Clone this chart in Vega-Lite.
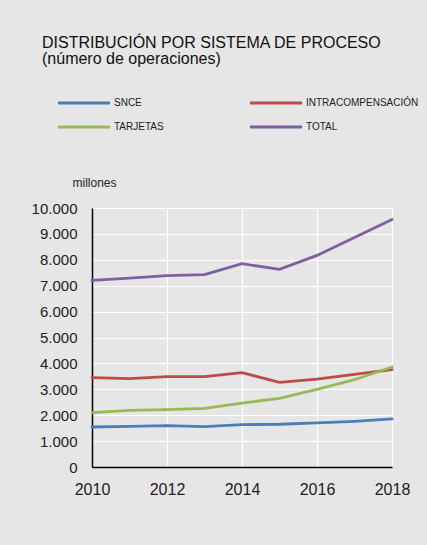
{
  "$schema": "https://vega.github.io/schema/vega-lite/v6.json",
  "width": 300,
  "height": 259,
  "autosize": "none",
  "padding": {"left": 92, "top": 208, "right": 35, "bottom": 78},
  "background": "#e6e6e6",
  "title": {
    "text": "DISTRIBUCIÓN POR SISTEMA DE PROCESO",
    "subtitle": "(número de operaciones)",
    "anchor": "start",
    "frame": "group",
    "dx": -50,
    "dy": -20,
    "font": "Liberation Sans",
    "fontSize": 16,
    "fontWeight": "normal",
    "color": "#111111",
    "subtitleFont": "Liberation Sans",
    "subtitleFontSize": 16,
    "subtitleColor": "#111111",
    "subtitlePadding": 0
  },
  "data": {
    "values": [
      {"year": 2010, "serie": "SNCE", "value": 1545},
      {"year": 2011, "serie": "SNCE", "value": 1570},
      {"year": 2012, "serie": "SNCE", "value": 1600},
      {"year": 2013, "serie": "SNCE", "value": 1560},
      {"year": 2014, "serie": "SNCE", "value": 1637},
      {"year": 2015, "serie": "SNCE", "value": 1650},
      {"year": 2016, "serie": "SNCE", "value": 1700},
      {"year": 2017, "serie": "SNCE", "value": 1765},
      {"year": 2018, "serie": "SNCE", "value": 1855},
      {"year": 2010, "serie": "INTRACOMPENSACIÓN", "value": 3450},
      {"year": 2011, "serie": "INTRACOMPENSACIÓN", "value": 3410},
      {"year": 2012, "serie": "INTRACOMPENSACIÓN", "value": 3490},
      {"year": 2013, "serie": "INTRACOMPENSACIÓN", "value": 3490},
      {"year": 2014, "serie": "INTRACOMPENSACIÓN", "value": 3640},
      {"year": 2015, "serie": "INTRACOMPENSACIÓN", "value": 3270},
      {"year": 2016, "serie": "INTRACOMPENSACIÓN", "value": 3390},
      {"year": 2017, "serie": "INTRACOMPENSACIÓN", "value": 3580},
      {"year": 2018, "serie": "INTRACOMPENSACIÓN", "value": 3760},
      {"year": 2010, "serie": "TARJETAS", "value": 2100},
      {"year": 2011, "serie": "TARJETAS", "value": 2190},
      {"year": 2012, "serie": "TARJETAS", "value": 2215},
      {"year": 2013, "serie": "TARJETAS", "value": 2265},
      {"year": 2014, "serie": "TARJETAS", "value": 2470},
      {"year": 2015, "serie": "TARJETAS", "value": 2650},
      {"year": 2016, "serie": "TARJETAS", "value": 3000},
      {"year": 2017, "serie": "TARJETAS", "value": 3370},
      {"year": 2018, "serie": "TARJETAS", "value": 3860},
      {"year": 2010, "serie": "TOTAL", "value": 7208},
      {"year": 2011, "serie": "TOTAL", "value": 7290},
      {"year": 2012, "serie": "TOTAL", "value": 7390},
      {"year": 2013, "serie": "TOTAL", "value": 7430},
      {"year": 2014, "serie": "TOTAL", "value": 7850},
      {"year": 2015, "serie": "TOTAL", "value": 7630},
      {"year": 2016, "serie": "TOTAL", "value": 8170},
      {"year": 2017, "serie": "TOTAL", "value": 8860},
      {"year": 2018, "serie": "TOTAL", "value": 9560}
    ]
  },
  "mark": {"type": "line", "strokeWidth": 2.8, "strokeCap": "round"},
  "encoding": {
    "x": {
      "field": "year",
      "type": "quantitative",
      "scale": {"domain": [2010, 2018], "nice": false, "zero": false},
      "axis": {
        "title": null,
        "values": [2010, 2012, 2014, 2016, 2018],
        "format": "d",
        "ticks": false,
        "tickSize": 0,
        "labelPadding": 14,
        "labelFont": "Liberation Sans",
        "labelFontSize": 16,
        "labelColor": "#222222",
        "domainColor": "#000000",
        "domainWidth": 1.5,
        "grid": true,
        "gridColor": "#ffffff",
        "gridWidth": 1.2,
        "gridOpacity": 1
      }
    },
    "y": {
      "field": "value",
      "type": "quantitative",
      "scale": {"domain": [0, 10000], "nice": false},
      "axis": {
        "title": "millones",
        "titleAngle": 0,
        "titleAlign": "left",
        "titleBaseline": "alphabetic",
        "titleX": -20,
        "titleY": -22,
        "titleFont": "Liberation Sans",
        "titleFontSize": 12,
        "titleFontWeight": "normal",
        "titleColor": "#222222",
        "values": [0, 1000, 2000, 3000, 4000, 5000, 6000, 7000, 8000, 9000, 10000],
        "labelExpr": "replace(format(datum.value, ','), ',', '.')",
        "ticks": false,
        "tickSize": 0,
        "labelPadding": 15,
        "labelFont": "Liberation Sans",
        "labelFontSize": 15,
        "labelColor": "#222222",
        "domainColor": "#000000",
        "domainWidth": 1.5,
        "grid": true,
        "gridColor": "#ffffff",
        "gridWidth": 1.2,
        "gridOpacity": 1
      }
    },
    "color": {
      "field": "serie",
      "type": "nominal",
      "sort": ["SNCE", "TARJETAS", "INTRACOMPENSACIÓN", "TOTAL"],
      "scale": {
        "domain": ["SNCE", "TARJETAS", "INTRACOMPENSACIÓN", "TOTAL"],
        "range": ["#4a7ebb", "#98b954", "#be4b48", "#7d60a0"]
      },
      "legend": {
        "title": null,
        "orient": "none",
        "legendX": -20,
        "legendY": -117,
        "columns": 2,
        "columnPadding": 79,
        "rowPadding": 6,
        "symbolType": "M-2.5,0H2.5",
        "symbolSize": 433,
        "symbolStrokeWidth": 3,
        "labelFont": "Liberation Sans",
        "labelFontSize": 10,
        "labelColor": "#222222",
        "labelOffset": 18,
        "labelLimit": 200
      }
    }
  },
  "config": {
    "view": {"stroke": null},
    "axis": {"labelFlush": false}
  }
}
